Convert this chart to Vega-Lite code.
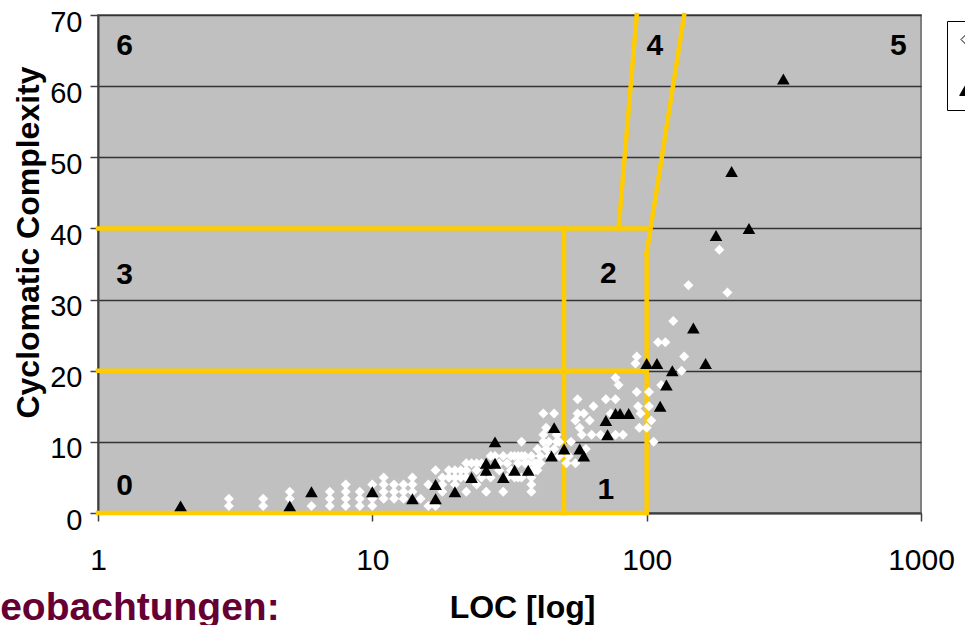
{
  "$schema": "https://vega.github.io/schema/vega-lite/v6.json",
  "width": 823,
  "height": 498,
  "autosize": {"type": "none"},
  "padding": {"left": 98, "top": 15, "right": 44, "bottom": 112},
  "background": "white",
  "config": {
    "font": "Liberation Sans",
    "view": {"fill": "#C0C0C0", "stroke": "#808080", "strokeWidth": 2},
    "axis": {"labelColor": "black", "titleColor": "black", "labelFont": "Liberation Sans", "titleFont": "Liberation Sans"}
  },
  "title": {
    "text": "Beobachtungen:",
    "orient": "bottom",
    "anchor": "start",
    "frame": "group",
    "font": "Liberation Sans",
    "fontSize": 39,
    "fontWeight": "bold",
    "color": "#660033",
    "baseline": "alphabetic",
    "offset": 0,
    "dx": -126,
    "dy": -3
  },
  "datasets": {
    "grenzen": [
      {"x": 1, "y": 0, "x2": 100, "y2": 0},
      {"x": 1, "y": 20, "x2": 100, "y2": 20},
      {"x": 1, "y": 40, "x2": 100, "y2": 40},
      {"x": 50, "y": 0, "x2": 50, "y2": 40},
      {"x": 100, "y": 0, "x2": 100, "y2": 36.5},
      {"x": 100, "y": 36.5, "x2": 137, "y2": 70},
      {"x": 79, "y": 40, "x2": 92, "y2": 70}
    ],
    "bereiche": [
      {"name": "0", "x": 1.25, "y": 3.8},
      {"name": "1", "x": 71, "y": 3.2},
      {"name": "2", "x": 72.5, "y": 33.6},
      {"name": "3", "x": 1.25, "y": 33.4},
      {"name": "4", "x": 107, "y": 65.6},
      {"name": "5", "x": 827, "y": 65.6},
      {"name": "6", "x": 1.25, "y": 65.6}
    ],
    "messwerte": [
      {"loc": 3, "cc": 1, "serie": "Methoden"}, {"loc": 3, "cc": 2, "serie": "Methoden"},
      {"loc": 4, "cc": 1, "serie": "Methoden"}, {"loc": 4, "cc": 2, "serie": "Methoden"},
      {"loc": 5, "cc": 2, "serie": "Methoden"}, {"loc": 5, "cc": 3, "serie": "Methoden"},
      {"loc": 6, "cc": 1, "serie": "Methoden"},
      {"loc": 7, "cc": 1, "serie": "Methoden"}, {"loc": 7, "cc": 2, "serie": "Methoden"}, {"loc": 7, "cc": 3, "serie": "Methoden"},
      {"loc": 8, "cc": 1, "serie": "Methoden"}, {"loc": 8, "cc": 2, "serie": "Methoden"}, {"loc": 8, "cc": 3, "serie": "Methoden"}, {"loc": 8, "cc": 4, "serie": "Methoden"},
      {"loc": 9, "cc": 1, "serie": "Methoden"}, {"loc": 9, "cc": 2, "serie": "Methoden"}, {"loc": 9, "cc": 3, "serie": "Methoden"},
      {"loc": 10, "cc": 1, "serie": "Methoden"}, {"loc": 10, "cc": 2, "serie": "Methoden"}, {"loc": 10, "cc": 4, "serie": "Methoden"},
      {"loc": 11, "cc": 2, "serie": "Methoden"}, {"loc": 11, "cc": 3, "serie": "Methoden"}, {"loc": 11, "cc": 4, "serie": "Methoden"}, {"loc": 11, "cc": 5, "serie": "Methoden"},
      {"loc": 12, "cc": 2, "serie": "Methoden"}, {"loc": 12, "cc": 3, "serie": "Methoden"}, {"loc": 12, "cc": 4, "serie": "Methoden"},
      {"loc": 13, "cc": 2, "serie": "Methoden"}, {"loc": 13, "cc": 3, "serie": "Methoden"}, {"loc": 13, "cc": 4, "serie": "Methoden"},
      {"loc": 14, "cc": 3, "serie": "Methoden"}, {"loc": 14, "cc": 4, "serie": "Methoden"}, {"loc": 14, "cc": 5, "serie": "Methoden"},
      {"loc": 15, "cc": 2, "serie": "Methoden"},
      {"loc": 16, "cc": 1, "serie": "Methoden"}, {"loc": 16, "cc": 4, "serie": "Methoden"},
      {"loc": 17, "cc": 1, "serie": "Methoden"}, {"loc": 17, "cc": 6, "serie": "Methoden"},
      {"loc": 18, "cc": 3, "serie": "Methoden"}, {"loc": 18, "cc": 4, "serie": "Methoden"}, {"loc": 18, "cc": 5, "serie": "Methoden"},
      {"loc": 19, "cc": 5, "serie": "Methoden"}, {"loc": 19, "cc": 6, "serie": "Methoden"},
      {"loc": 20, "cc": 4, "serie": "Methoden"}, {"loc": 20, "cc": 5, "serie": "Methoden"}, {"loc": 20, "cc": 6, "serie": "Methoden"},
      {"loc": 21, "cc": 5, "serie": "Methoden"}, {"loc": 21, "cc": 6, "serie": "Methoden"},
      {"loc": 22, "cc": 3, "serie": "Methoden"}, {"loc": 22, "cc": 5, "serie": "Methoden"}, {"loc": 22, "cc": 6, "serie": "Methoden"}, {"loc": 22, "cc": 7, "serie": "Methoden"},
      {"loc": 23, "cc": 7, "serie": "Methoden"},
      {"loc": 24, "cc": 4, "serie": "Methoden"}, {"loc": 24, "cc": 6, "serie": "Methoden"}, {"loc": 24, "cc": 7, "serie": "Methoden"},
      {"loc": 25, "cc": 5, "serie": "Methoden"}, {"loc": 25, "cc": 7, "serie": "Methoden"},
      {"loc": 26, "cc": 3, "serie": "Methoden"},
      {"loc": 27, "cc": 5, "serie": "Methoden"}, {"loc": 27, "cc": 8, "serie": "Methoden"},
      {"loc": 28, "cc": 8, "serie": "Methoden"},
      {"loc": 29, "cc": 6, "serie": "Methoden"}, {"loc": 29, "cc": 7, "serie": "Methoden"},
      {"loc": 30, "cc": 3, "serie": "Methoden"}, {"loc": 30, "cc": 8, "serie": "Methoden"},
      {"loc": 31, "cc": 5, "serie": "Methoden"}, {"loc": 31, "cc": 7, "serie": "Methoden"},
      {"loc": 32, "cc": 6, "serie": "Methoden"}, {"loc": 32, "cc": 8, "serie": "Methoden"},
      {"loc": 33, "cc": 5, "serie": "Methoden"}, {"loc": 33, "cc": 8, "serie": "Methoden"},
      {"loc": 34, "cc": 5, "serie": "Methoden"}, {"loc": 34, "cc": 7, "serie": "Methoden"}, {"loc": 34, "cc": 8, "serie": "Methoden"},
      {"loc": 35, "cc": 5, "serie": "Methoden"}, {"loc": 35, "cc": 8, "serie": "Methoden"}, {"loc": 35, "cc": 10, "serie": "Methoden"},
      {"loc": 36, "cc": 7, "serie": "Methoden"}, {"loc": 36, "cc": 8, "serie": "Methoden"},
      {"loc": 37, "cc": 7, "serie": "Methoden"},
      {"loc": 38, "cc": 3, "serie": "Methoden"}, {"loc": 38, "cc": 4, "serie": "Methoden"}, {"loc": 38, "cc": 5, "serie": "Methoden"}, {"loc": 38, "cc": 6, "serie": "Methoden"}, {"loc": 38, "cc": 8, "serie": "Methoden"},
      {"loc": 39, "cc": 6, "serie": "Methoden"}, {"loc": 39, "cc": 7, "serie": "Methoden"},
      {"loc": 40, "cc": 6, "serie": "Methoden"}, {"loc": 40, "cc": 7, "serie": "Methoden"}, {"loc": 40, "cc": 9, "serie": "Methoden"},
      {"loc": 41, "cc": 7, "serie": "Methoden"}, {"loc": 41, "cc": 8, "serie": "Methoden"},
      {"loc": 42, "cc": 10, "serie": "Methoden"}, {"loc": 42, "cc": 11, "serie": "Methoden"}, {"loc": 42, "cc": 14, "serie": "Methoden"},
      {"loc": 43, "cc": 9, "serie": "Methoden"}, {"loc": 43, "cc": 12, "serie": "Methoden"},
      {"loc": 44, "cc": 8, "serie": "Methoden"}, {"loc": 44, "cc": 10, "serie": "Methoden"},
      {"loc": 46, "cc": 9, "serie": "Methoden"}, {"loc": 46, "cc": 14, "serie": "Methoden"},
      {"loc": 47, "cc": 10, "serie": "Methoden"}, {"loc": 47, "cc": 11, "serie": "Methoden"},
      {"loc": 48, "cc": 8, "serie": "Methoden"}, {"loc": 48, "cc": 10, "serie": "Methoden"},
      {"loc": 51, "cc": 7, "serie": "Methoden"},
      {"loc": 52, "cc": 8, "serie": "Methoden"},
      {"loc": 53, "cc": 10, "serie": "Methoden"},
      {"loc": 55, "cc": 7, "serie": "Methoden"}, {"loc": 55, "cc": 13, "serie": "Methoden"},
      {"loc": 56, "cc": 14, "serie": "Methoden"}, {"loc": 56, "cc": 16, "serie": "Methoden"},
      {"loc": 57, "cc": 12, "serie": "Methoden"},
      {"loc": 58, "cc": 11, "serie": "Methoden"},
      {"loc": 59, "cc": 14, "serie": "Methoden"},
      {"loc": 60, "cc": 9, "serie": "Methoden"},
      {"loc": 62, "cc": 13, "serie": "Methoden"},
      {"loc": 63, "cc": 11, "serie": "Methoden"},
      {"loc": 64, "cc": 15, "serie": "Methoden"},
      {"loc": 68, "cc": 11, "serie": "Methoden"},
      {"loc": 71, "cc": 16, "serie": "Methoden"},
      {"loc": 74, "cc": 14, "serie": "Methoden"},
      {"loc": 77, "cc": 11, "serie": "Methoden"}, {"loc": 77, "cc": 16, "serie": "Methoden"}, {"loc": 77, "cc": 19, "serie": "Methoden"},
      {"loc": 79, "cc": 18, "serie": "Methoden"},
      {"loc": 82, "cc": 11, "serie": "Methoden"},
      {"loc": 91, "cc": 21, "serie": "Methoden"},
      {"loc": 92, "cc": 17, "serie": "Methoden"}, {"loc": 92, "cc": 22, "serie": "Methoden"},
      {"loc": 93, "cc": 15, "serie": "Methoden"},
      {"loc": 94, "cc": 12, "serie": "Methoden"},
      {"loc": 95, "cc": 14, "serie": "Methoden"},
      {"loc": 100, "cc": 12, "serie": "Methoden"},
      {"loc": 102, "cc": 15, "serie": "Methoden"}, {"loc": 102, "cc": 17, "serie": "Methoden"},
      {"loc": 104, "cc": 13, "serie": "Methoden"},
      {"loc": 106, "cc": 10, "serie": "Methoden"},
      {"loc": 110, "cc": 24, "serie": "Methoden"},
      {"loc": 113, "cc": 18, "serie": "Methoden"},
      {"loc": 117, "cc": 24, "serie": "Methoden"},
      {"loc": 125, "cc": 27, "serie": "Methoden"},
      {"loc": 134, "cc": 20, "serie": "Methoden"},
      {"loc": 137, "cc": 22, "serie": "Methoden"},
      {"loc": 142, "cc": 32, "serie": "Methoden"},
      {"loc": 184, "cc": 37, "serie": "Methoden"},
      {"loc": 197, "cc": 31, "serie": "Methoden"},
      {"loc": 2, "cc": 1, "serie": "Methoden mit Fehlern"},
      {"loc": 5, "cc": 1, "serie": "Methoden mit Fehlern"},
      {"loc": 6, "cc": 3, "serie": "Methoden mit Fehlern"},
      {"loc": 10, "cc": 3, "serie": "Methoden mit Fehlern"},
      {"loc": 14, "cc": 2, "serie": "Methoden mit Fehlern"},
      {"loc": 17, "cc": 4, "serie": "Methoden mit Fehlern"},
      {"loc": 17, "cc": 2, "serie": "Methoden mit Fehlern"},
      {"loc": 20, "cc": 3, "serie": "Methoden mit Fehlern"},
      {"loc": 23, "cc": 5, "serie": "Methoden mit Fehlern"},
      {"loc": 26, "cc": 6, "serie": "Methoden mit Fehlern"},
      {"loc": 26, "cc": 7, "serie": "Methoden mit Fehlern"},
      {"loc": 28, "cc": 10, "serie": "Methoden mit Fehlern"},
      {"loc": 28, "cc": 7, "serie": "Methoden mit Fehlern"},
      {"loc": 30, "cc": 5, "serie": "Methoden mit Fehlern"},
      {"loc": 33, "cc": 6, "serie": "Methoden mit Fehlern"},
      {"loc": 37, "cc": 6, "serie": "Methoden mit Fehlern"},
      {"loc": 45, "cc": 8, "serie": "Methoden mit Fehlern"},
      {"loc": 46, "cc": 12, "serie": "Methoden mit Fehlern"},
      {"loc": 50, "cc": 9, "serie": "Methoden mit Fehlern"},
      {"loc": 57, "cc": 9, "serie": "Methoden mit Fehlern"},
      {"loc": 59, "cc": 8, "serie": "Methoden mit Fehlern"},
      {"loc": 71, "cc": 13, "serie": "Methoden mit Fehlern"},
      {"loc": 72, "cc": 11, "serie": "Methoden mit Fehlern"},
      {"loc": 77, "cc": 14, "serie": "Methoden mit Fehlern"},
      {"loc": 80, "cc": 14, "serie": "Methoden mit Fehlern"},
      {"loc": 86, "cc": 14, "serie": "Methoden mit Fehlern"},
      {"loc": 100, "cc": 21, "serie": "Methoden mit Fehlern"},
      {"loc": 109, "cc": 21, "serie": "Methoden mit Fehlern"},
      {"loc": 112, "cc": 15, "serie": "Methoden mit Fehlern"},
      {"loc": 118, "cc": 18, "serie": "Methoden mit Fehlern"},
      {"loc": 124, "cc": 20, "serie": "Methoden mit Fehlern"},
      {"loc": 148, "cc": 26, "serie": "Methoden mit Fehlern"},
      {"loc": 164, "cc": 21, "serie": "Methoden mit Fehlern"},
      {"loc": 179, "cc": 39, "serie": "Methoden mit Fehlern"},
      {"loc": 204, "cc": 48, "serie": "Methoden mit Fehlern"},
      {"loc": 236, "cc": 40, "serie": "Methoden mit Fehlern"},
      {"loc": 315, "cc": 61, "serie": "Methoden mit Fehlern"}
    ]
  },
  "layer": [
    {
      "data": {"name": "grenzen"},
      "mark": {"type": "rule", "color": "#FFCC00", "strokeWidth": 4.5, "strokeCap": "square"},
      "encoding": {
        "x": {
          "field": "x", "type": "quantitative",
          "scale": {"type": "log", "domain": [1, 1000], "nice": false},
          "axis": {
            "values": [1, 10, 100, 1000],
            "format": "d",
            "grid": false,
            "labelFontSize": 30,
            "labelPadding": 24,
            "labelFlush": false,
            "labelOverlap": false,
            "tickSize": 8,
            "tickColor": "#404040",
            "tickWidth": 1.5,
            "domainColor": "#404040",
            "domainWidth": 2,
            "title": "LOC  [log]",
            "titleFontSize": 32,
            "titleFontWeight": "bold",
            "titleX": 424,
            "titleY": 104,
            "titleBaseline": "alphabetic",
            "titleAlign": "center"
          }
        },
        "x2": {"field": "x2"},
        "y": {
          "field": "y", "type": "quantitative",
          "scale": {"domain": [0, 70], "nice": false},
          "axis": {
            "values": [0, 10, 20, 30, 40, 50, 60, 70],
            "grid": true,
            "gridColor": "#333333",
            "gridWidth": 1.5,
            "labelFontSize": 29,
            "labelPadding": 8,
            "labelOffset": 7,
            "tickSize": 8,
            "tickColor": "#404040",
            "tickWidth": 1.5,
            "domainColor": "#404040",
            "domainWidth": 2,
            "title": "Cyclomatic Complexity",
            "titleFontSize": 32,
            "titleFontWeight": "bold",
            "titleX": -60,
            "titleY": 227,
            "titleAngle": -90,
            "titleBaseline": "alphabetic",
            "titleAlign": "center"
          }
        },
        "y2": {"field": "y2"}
      }
    },
    {
      "data": {"name": "messwerte"},
      "mark": {"type": "point", "filled": true, "opacity": 1},
      "encoding": {
        "x": {"field": "loc", "type": "quantitative"},
        "y": {"field": "cc", "type": "quantitative"},
        "color": {
          "field": "serie", "type": "nominal",
          "scale": {"domain": ["Methoden", "Methoden mit Fehlern"], "range": ["#FFFFFF", "#000000"]},
          "legend": {
            "orient": "none",
            "legendX": 849,
            "legendY": 6,
            "title": null,
            "fillColor": "white",
            "strokeColor": "black",
            "padding": 12,
            "rowPadding": 35,
            "labelFontSize": 13,
            "symbolSize": 130,
            "symbolStrokeColor": "black",
            "symbolStrokeWidth": 1
          }
        },
        "shape": {
          "field": "serie", "type": "nominal",
          "scale": {"domain": ["Methoden", "Methoden mit Fehlern"], "range": ["diamond", "triangle-up"]}
        },
        "size": {
          "field": "serie", "type": "nominal",
          "scale": {"domain": ["Methoden", "Methoden mit Fehlern"], "range": [100, 160]},
          "legend": null
        }
      }
    },
    {
      "data": {"name": "bereiche"},
      "mark": {"type": "text", "fontSize": 30, "fontWeight": "bold", "color": "black", "align": "center", "baseline": "middle"},
      "encoding": {
        "x": {"field": "x", "type": "quantitative"},
        "y": {"field": "y", "type": "quantitative"},
        "text": {"field": "name"}
      }
    }
  ]
}
